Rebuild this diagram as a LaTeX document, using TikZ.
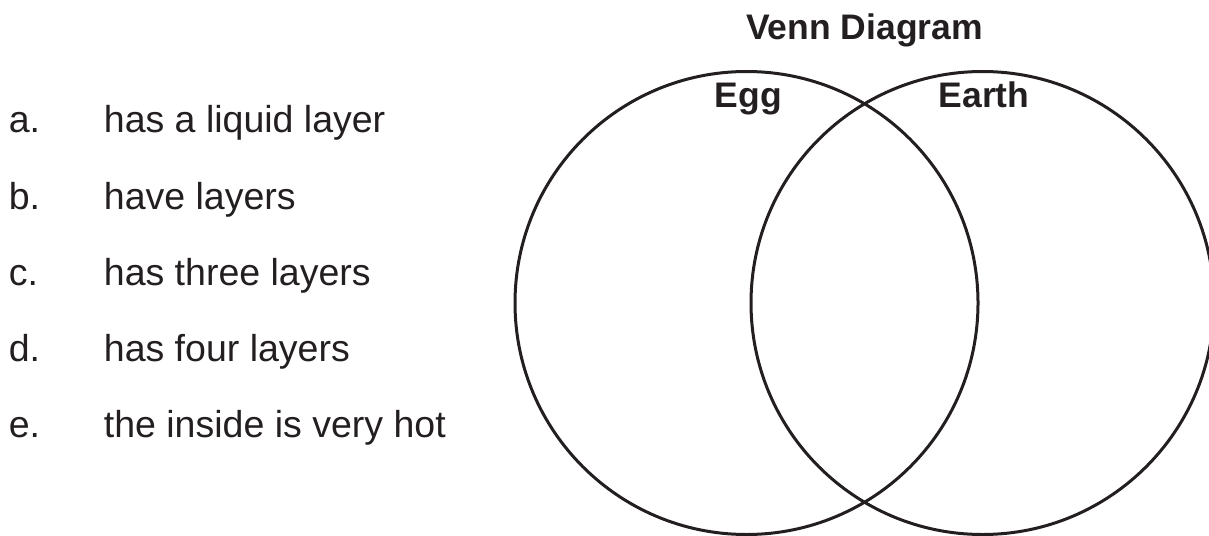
\documentclass[tikz,border=0pt]{standalone}
\usepackage{fontspec}
\setmainfont{Liberation Sans}
\usepackage{tikz}
\usetikzlibrary{positioning}
\definecolor{ink}{HTML}{231F20}

\begin{document}
\begin{tikzpicture}[x=0.5pt,y=-0.5pt,every node/.style={text=ink,inner sep=0pt}]
\tikzstyle{venn}=[draw=ink,line width=1.5pt,shape=circle,minimum size=231.5pt,inner sep=0pt]
\tikzstyle{title}=[font=\fontsize{17.75}{20}\selectfont\bfseries,anchor=base]
\tikzstyle{item}=[font=\fontsize{18.75}{22}\selectfont,anchor=base west]
\useasboundingbox (0,0) rectangle (1209,535);

\node[venn] (egg) at (746.5,303) {};
\node[venn] (earth) at (982.5,303) {};

\node[title] (head) at (864.5,40) {Venn Diagram};
\node[title] (eggl) at (748.5,107) {Egg};
\node[title] (earthl) at (984,107) {Earth};

\foreach \k/\t [count=\i] in {a/has a liquid layer,b/have layers,c/has three layers,d/has four layers,e/the inside is very hot}
{
  \node[item] (let\k) at (8.5,57+76*\i) {\k.};
  \node[item] (txt\k) at (103.5,57+76*\i) {\t};
}

\end{tikzpicture}
\end{document}
